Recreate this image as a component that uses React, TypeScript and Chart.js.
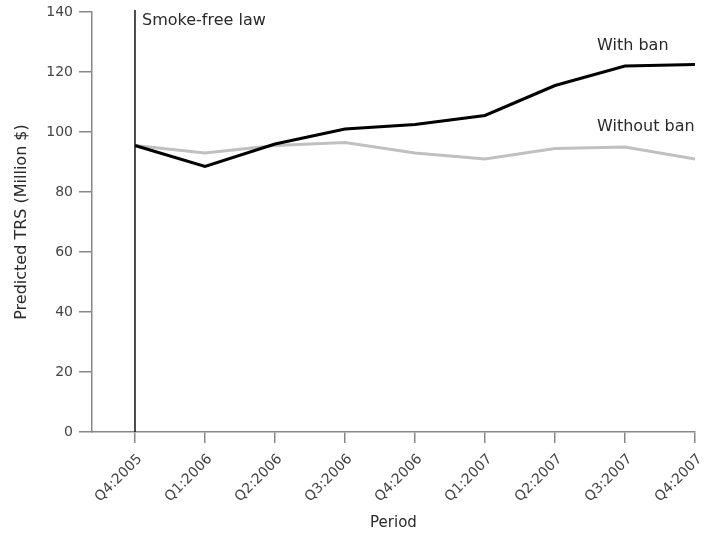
import React, { useEffect, useRef } from "react";
import { Chart, registerables } from "chart.js";

Chart.register(...registerables);

const periods = ["Q4:2005", "Q1:2006", "Q2:2006", "Q3:2006", "Q4:2006", "Q1:2007", "Q2:2007", "Q3:2007", "Q4:2007"];
const withBan = [95.5, 88.5, 96, 101, 102.5, 105.5, 115.5, 122, 122.5];
const withoutBan = [95.5, 93, 95.5, 96.5, 93, 91, 94.5, 95, 91];
const yTicks = [0, 20, 40, 60, 80, 100, 120, 140];

const FONT = "'DejaVu Sans', Verdana, sans-serif";

const annotPlugin = {
  id: "annot",
  afterDatasetsDraw(chart: any) {
    const { ctx, scales } = chart;
    const x = scales.x;
    const y = scales.y;
    const lawX = x.getPixelForValue(0);
    ctx.save();
    ctx.strokeStyle = "#111";
    ctx.lineWidth = 1.5;
    ctx.beginPath();
    ctx.moveTo(lawX, y.getPixelForValue(140) - 2);
    ctx.lineTo(lawX, y.getPixelForValue(0));
    ctx.stroke();
    ctx.fillStyle = "#2a2a2a";
    ctx.font = `16px ${FONT}`;
    ctx.textBaseline = "middle";
    ctx.textAlign = "left";
    ctx.fillText("Smoke-free law", lawX + 7, 21);
    ctx.fillText("With ban", 597, 46);
    ctx.fillText("Without ban", 597, 127);
    ctx.restore();
  },
};

export default function App() {
  const ref = useRef<HTMLCanvasElement>(null);
  useEffect(() => {
    if (!ref.current) return;
    const chart = new Chart(ref.current, {
      type: "line",
      data: {
        datasets: [
          {
            label: "With ban",
            data: withBan.map((v, i) => ({ x: i, y: v })),
            borderColor: "#000",
            borderWidth: 3,
            pointRadius: 0,
            tension: 0,
          },
          {
            label: "Without ban",
            data: withoutBan.map((v, i) => ({ x: i, y: v })),
            borderColor: "#c0c0c0",
            borderWidth: 3,
            pointRadius: 0,
            tension: 0,
          },
        ],
      },
      options: {
        animation: false,
        responsive: false,
        maintainAspectRatio: false,
        layout: { padding: { left: 0, right: 16, top: 12, bottom: 0 } },
        plugins: { legend: { display: false }, tooltip: { enabled: false } },
        scales: {
          x: {
            type: "linear",
            min: -0.614,
            max: periods.length - 1,
            afterBuildTicks: (s: any) => {
              s.ticks = periods.map((_, i) => ({ value: i }));
            },
            afterFit: (s: any) => {
              s.height = 103;
              s.paddingLeft = 0;
              s.paddingRight = 0;
            },
            ticks: {
              callback: (v: any) => periods[v] ?? "",
              maxRotation: 45,
              minRotation: 45,
              autoSkip: false,
              color: "#444",
              font: { family: FONT, size: 14 },
              padding: 8,
              labelOffset: 5,
            },
            grid: { drawOnChartArea: false, drawTicks: true, tickLength: 11, color: "#888", lineWidth: 1.5 },
            border: { color: "#888", width: 1.5 },
            title: { display: true, text: "Period", color: "#2a2a2a", font: { family: FONT, size: 15 }, padding: { top: 3, bottom: 3 } },
          },
          y: {
            min: 0,
            max: 140,
            afterBuildTicks: (s: any) => {
              s.ticks = yTicks.map((v) => ({ value: v }));
            },
            afterFit: (s: any) => {
              s.width = 92;
              s.paddingTop = 0;
              s.paddingBottom = 0;
            },
            ticks: { color: "#444", font: { family: FONT, size: 14 }, padding: 6 },
            grid: { drawOnChartArea: false, drawTicks: true, tickLength: 13, color: "#888", lineWidth: 1.5 },
            border: { color: "#888", width: 1.5 },
            title: { display: true, text: "Predicted TRS (Million $)", color: "#2a2a2a", font: { family: FONT, size: 16 }, padding: { top: 12, bottom: 12 } },
          },
        },
      },
      plugins: [annotPlugin],
    });
    return () => chart.destroy();
  }, []);
  return (
    <div style={{ position: "absolute", left: 0, top: 0, width: 711, height: 535, background: "#fff" }}>
      <canvas ref={ref} width={711} height={535} style={{ width: 711, height: 535 }} />
    </div>
  );
}
